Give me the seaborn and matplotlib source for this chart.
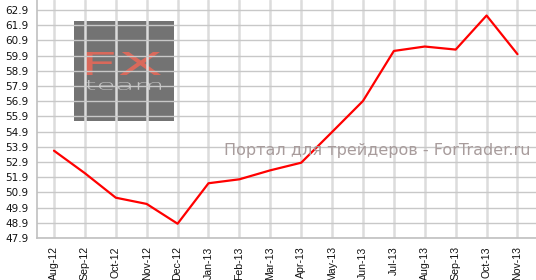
import matplotlib
matplotlib.use("Agg")
import matplotlib.pyplot as plt
import seaborn as sns
import pandas as pd
from matplotlib.patches import Rectangle, PathPatch
from matplotlib.textpath import TextPath
from matplotlib.font_manager import FontProperties
from matplotlib.transforms import Affine2D

months = ["Aug-12", "Sep-12", "Oct-12", "Nov-12", "Dec-12", "Jan-13", "Feb-13", "Mar-13",
          "Apr-13", "May-13", "Jun-13", "Jul-13", "Aug-13", "Sep-13", "Oct-13", "Nov-13"]
values = [53.64, 52.16, 50.55, 50.14, 48.84, 51.50, 51.76, 52.35,
          52.85, 54.87, 56.91, 60.20, 60.49, 60.29, 62.53, 59.99]
yticks = [47.9, 48.9, 49.9, 50.9, 51.9, 52.9, 53.9, 54.9, 55.9, 56.9, 57.9, 58.9, 59.9, 60.9, 61.9, 62.9]

df = pd.DataFrame({"month": months, "value": values, "idx": range(len(months))})

sns.set_style("white")
plt.rcParams['font.family'] = ['DejaVu Sans']

W, H = 536, 280
fig = plt.figure(figsize=(W / 100, H / 100), dpi=100)
ax = fig.add_axes([37 / W, 42 / H, 1 - 37 / W, 1 - 42 / H])
ax.set_zorder(1)
ax.patch.set_alpha(0)

# watermark box (behind the axes/grid)
fig.patches.append(Rectangle((74 / W, 1 - 121 / H), 100 / W, 100 / H,
                             transform=fig.transFigure, facecolor="#737373",
                             edgecolor="none", zorder=0))


def fitted_text(s, x0, y0, x1, y1, color, weight="normal", lw=0.0):
    """Text path stretched to fit the pixel box (x0,y0)-(x1,y1), top-left origin."""
    tp = TextPath((0, 0), s, size=10, prop=FontProperties(family="DejaVu Sans", weight=weight))
    ext = tp.get_extents()
    sx = (x1 - x0) / ext.width
    sy = (y1 - y0) / ext.height
    tr = (Affine2D().translate(-ext.x0, -ext.y0).scale(sx, sy)
          .translate(x0, H - y1).scale(1 / W, 1 / H)) + fig.transFigure
    p = PathPatch(tp, transform=tr, facecolor=color, edgecolor=color, linewidth=lw, zorder=0.5)
    fig.patches.append(p)


fitted_text("FX", 86, 52, 161, 75, "#d9695b", weight="normal")
fitted_text("team", 86, 80, 161, 90, "#c4c4c4", weight="light")

sns.lineplot(data=df, x="idx", y="value", ax=ax, color="#ff0000", linewidth=1.6, zorder=3)

ax.set_xlim(-0.55, 15.6)
ax.set_ylim(47.9, 63.55)
ax.set_xticks(range(len(months)))
ax.set_xticklabels(months, rotation=90, fontfamily="Liberation Sans", fontsize=7.6)
ax.set_yticks(yticks)
ax.set_yticklabels([f"{t:.1f}" for t in yticks], fontsize=7.5)
ax.set_xlabel("")
ax.set_ylabel("")

ax.grid(axis="y", color="#c8c8c8", linewidth=1.0)
ax.grid(axis="x", color="#dcdcdc", linewidth=1.8)
ax.set_axisbelow(True)

for s in ["top", "right"]:
    ax.spines[s].set_visible(False)
for s in ["left", "bottom"]:
    ax.spines[s].set_color("#c0c0c0")
    ax.spines[s].set_linewidth(1.2)

ax.tick_params(axis="both", which="both", direction="out", length=4, width=1,
               color="#c0c0c0", labelcolor="#111111", pad=2)

fig.text(530 / W, 1 - 151 / H, "Портал для трейдеров - ForTrader.ru", ha="right", va="center",
         fontsize=11.5, color="#a89c9c", zorder=5)

fig.savefig("out.png", dpi=100)
